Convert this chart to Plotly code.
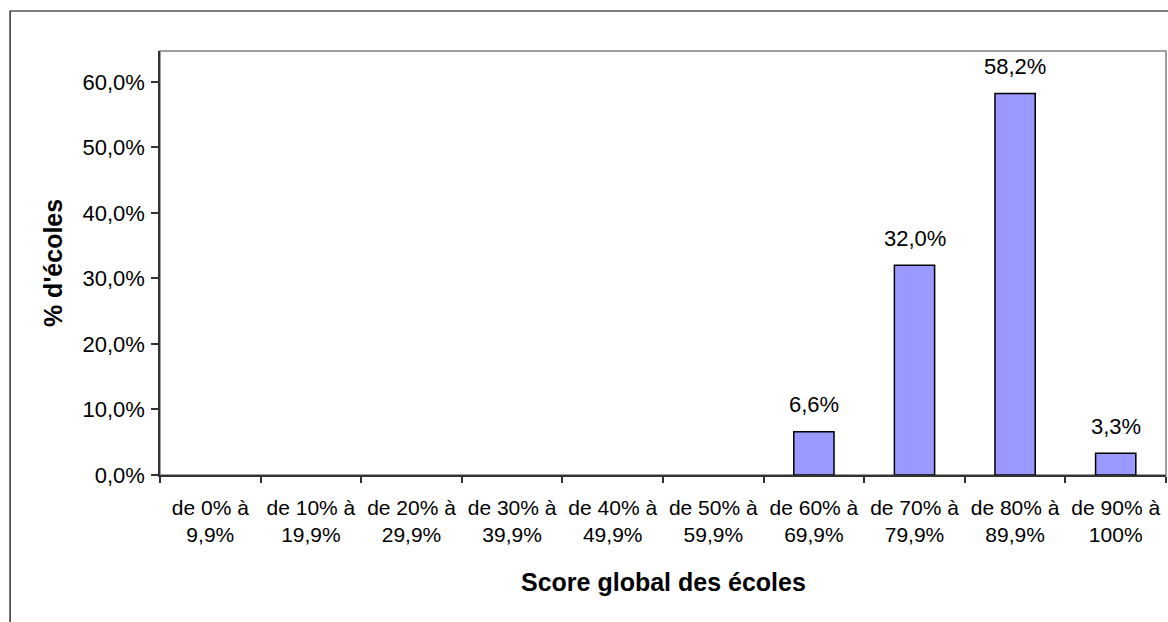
import plotly.graph_objects as go

categories = ["de 0% à<br>9,9%", "de 10% à<br>19,9%", "de 20% à<br>29,9%", "de 30% à<br>39,9%",
              "de 40% à<br>49,9%", "de 50% à<br>59,9%", "de 60% à<br>69,9%", "de 70% à<br>79,9%",
              "de 80% à<br>89,9%", "de 90% à<br>100%"]
values = [0, 0, 0, 0, 0, 0, 0.066, 0.320, 0.582, 0.033]
y_ticks = [0, 0.1, 0.2, 0.3, 0.4, 0.5, 0.6]

FONT = "Liberation Sans, Arial, sans-serif"

fig = go.Figure()
fig.add_trace(go.Bar(
    x=categories, y=[v if v > 0 else None for v in values],
    marker=dict(color="#9999FF", line=dict(color="black", width=1.5)),
    hoverinfo="skip",
))

L, R, T, B = 160, 1.5, 51, 147
W, H = 1168, 622
pw, ph = W - L - R, H - T - B

for c, v in zip(categories, values):
    if v > 0:
        fig.add_annotation(x=c, y=v, xref="x", yref="y", text=f"{v*100:.1f}%".replace(".", ","),
                           showarrow=False, yanchor="middle", yshift=27,
                           font=dict(family=FONT, size=22, color="black"))

fig.add_annotation(x=0.5, y=-(582 - 475) / ph, xref="paper", yref="paper",
                   text="<b>Score global des écoles</b>", showarrow=False,
                   xanchor="center", yanchor="middle",
                   font=dict(family=FONT, size=25, color="black"))
fig.add_annotation(x=(53 - L) / pw, y=0.5, xref="paper", yref="paper",
                   text="<b>% d'écoles</b>", showarrow=False, textangle=-90,
                   xanchor="center", yanchor="middle",
                   font=dict(family=FONT, size=25, color="black"))

# plot area border (gray)
fig.add_shape(type="rect", xref="paper", yref="paper", x0=0, x1=1, y0=0, y1=1,
              line=dict(color="#808080", width=1.5), layer="below")
# outer chart border
fig.add_shape(type="rect", xref="paper", yref="paper",
              x0=(10 - L) / pw, x1=(W + 5 - L) / pw,
              y0=-(H + 5 - T - ph) / ph, y1=1 + (T - 11) / ph,
              line=dict(color="black", width=1.2))

fig.update_layout(
    width=W, height=H,
    margin=dict(l=L, r=R, t=T, b=B, pad=0),
    paper_bgcolor="white", plot_bgcolor="white",
    separators=", ",
    bargap=0.6,
    showlegend=False,
    font=dict(family=FONT, size=22, color="black"),
    xaxis=dict(
        type="category", tickson="boundaries", ticks="outside", ticklen=6,
        tickcolor="#333", tickwidth=1.5,
        showline=True, linecolor="#333", linewidth=1.5, showgrid=False,
        tickfont=dict(family=FONT, size=21, color="black"),
        tickangle=0, ticklabelstandoff=13,
    ),
    yaxis=dict(
        range=[0, 0.647], tickvals=y_ticks, tickformat=".1%",
        ticks="outside", ticklen=7, tickcolor="#333", tickwidth=1.5,
        showline=True, linecolor="#333", linewidth=1.5, showgrid=False,
        zeroline=False, ticklabelstandoff=2,
        tickfont=dict(family=FONT, size=22, color="black"),
    ),
)

fig.write_html("out.html")
